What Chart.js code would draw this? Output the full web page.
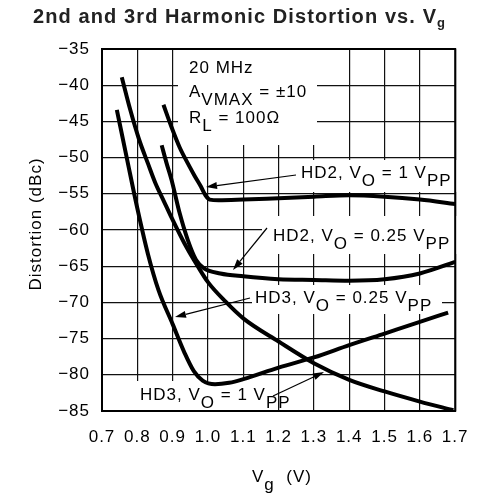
<!DOCTYPE html>
<html><head><meta charset="utf-8">
<script src="https://cdn.jsdelivr.net/npm/chart.js@4.4.1/dist/chart.umd.min.js"></script>
<style>html,body{margin:0;padding:0;background:#fff;}#wrap{width:483px;height:499px;}</style>
</head><body><div id="wrap"><canvas id="c" width="483" height="499"></canvas></div>
<script>
// Tick labels
const xTicks = [0.7, 0.8, 0.9, 1.0, 1.1, 1.2, 1.3, 1.4, 1.5, 1.6, 1.7];
const yTicks = [-35, -40, -45, -50, -55, -60, -65, -70, -75, -80, -85];

// HD2, VO = 1 VPP
const hd2_1V_x = [0.874, 0.897, 0.92, 0.943, 0.962, 0.98, 0.993, 1.005, 1.03, 1.1, 1.2, 1.3, 1.4, 1.5, 1.6, 1.7];
const hd2_1V_y = [-42.7, -45.8, -48.6, -50.8, -52.5, -54.0, -55.2, -55.8, -55.9, -55.8, -55.6, -55.4, -55.2, -55.4, -55.8, -56.4];
// HD2, VO = 0.25 VPP
const hd2_025V_x = [0.869, 0.883, 0.897, 0.92, 0.943, 0.966, 0.989, 1.035, 1.1, 1.2, 1.3, 1.4, 1.5, 1.6, 1.7];
const hd2_025V_y = [-48.3, -50.8, -53.1, -57.7, -61.4, -64.1, -65.3, -66.0, -66.4, -66.8, -66.9, -67.0, -66.8, -66.0, -64.4];
// HD3, VO = 0.25 VPP
const hd3_025V_x = [0.742, 0.77, 0.8, 0.83, 0.86, 0.9, 0.934, 0.96, 0.985, 1.02, 1.06, 1.1, 1.2, 1.3, 1.4, 1.5, 1.6, 1.68];
const hd3_025V_y = [-43.4, -50.0, -57.0, -63.3, -68.3, -73.0, -77.0, -79.5, -80.8, -81.3, -81.1, -80.6, -79.0, -77.6, -75.9, -74.3, -72.7, -71.4];
// HD3, VO = 1 VPP
const hd3_1V_x = [0.756, 0.78, 0.805, 0.83, 0.851, 0.875, 0.897, 0.934, 0.971, 1.0, 1.05, 1.1, 1.2, 1.3, 1.4, 1.5, 1.6, 1.695];
const hd3_1V_y = [-38.9, -43.4, -47.5, -50.8, -53.5, -56.0, -58.3, -61.9, -65.0, -67.2, -69.9, -72.2, -75.4, -78.4, -80.7, -82.3, -83.7, -84.9];

const FAM = "'Liberation Sans', Arial, sans-serif";
const FONT = "17px " + FAM;

function pts(xs, ys) { return xs.map((x, i) => ({x: x, y: ys[i]})); }
function ds(label, xs, ys) {
  return {label: label, data: pts(xs, ys), borderColor: '#000', borderWidth: 4,
    pointRadius: 0, fill: false, cubicInterpolationMode: 'monotone', borderCapStyle: 'butt', borderJoinStyle: 'round'};
}

function rich(ctx, x, y, parts) {
  let cx = x;
  for (const p of parts) {
    const t = p[0], sub = p[1];
    ctx.fillText(t, cx, y + (sub ? 8 : 0));
    cx += ctx.measureText(t).width;
  }
}
function arrow(ctx, x0, y0, x1, y1) {
  ctx.save();
  ctx.strokeStyle = '#000'; ctx.fillStyle = '#000'; ctx.lineWidth = 1.2;
  const a = Math.atan2(y1 - y0, x1 - x0);
  const L = 11, W = 3.5;
  const bx = x1 - L * Math.cos(a), by = y1 - L * Math.sin(a);
  ctx.beginPath(); ctx.moveTo(x0, y0); ctx.lineTo(bx, by); ctx.stroke();
  ctx.beginPath();
  ctx.moveTo(x1, y1);
  ctx.lineTo(bx + W * Math.sin(a), by - W * Math.cos(a));
  ctx.lineTo(bx - W * Math.sin(a), by + W * Math.cos(a));
  ctx.closePath(); ctx.fill();
  ctx.restore();
}

const deco = {
  id: 'deco',
  beforeDraw(chart) { chart.ctx.letterSpacing = '1px'; },
  beforeDatasetsDraw(chart) {
    const ctx = chart.ctx, a = chart.chartArea;
    ctx.save();
    ctx.fillStyle = '#fff';
    const boxes = [[178, 50, 317, 145], [296, 160, 458, 192], [262, 216, 458, 254], [252, 285, 442, 314], [108, 381, 278, 410]];
    for (const b of boxes) ctx.fillRect(b[0], b[1], b[2] - b[0], b[3] - b[1]);
    ctx.strokeStyle = '#000'; ctx.lineWidth = 2;
    ctx.strokeRect(a.left, a.top, a.right - a.left, a.bottom - a.top);
    ctx.restore();
  },
  afterDatasetsDraw(chart) {
    const ctx = chart.ctx;
    ctx.save();
    ctx.letterSpacing = '1px';
    ctx.fillStyle = '#000';
    ctx.font = FONT;
    ctx.textBaseline = 'alphabetic';
    ctx.textAlign = 'left';
    rich(ctx, 189, 73, [['20 MHz']]);
    rich(ctx, 189, 97, [['A'], ['VMAX', 1], [' = \u00b110']]);
    rich(ctx, 189, 123, [['R'], ['L', 1], [' = 100\u03a9']]);
    rich(ctx, 301, 178, [['HD2, V'], ['O', 1], [' = 1 V'], ['PP', 1]]);
    rich(ctx, 273, 241, [['HD2, V'], ['O', 1], [' = 0.25 V'], ['PP', 1]]);
    rich(ctx, 255, 303, [['HD3, V'], ['O', 1], [' = 0.25 V'], ['PP', 1]]);
    rich(ctx, 140, 400, [['HD3, V'], ['O', 1], [' = 1 V'], ['PP', 1]]);
    arrow(ctx, 296, 175, 206, 187);
    arrow(ctx, 267, 228, 233, 270);
    arrow(ctx, 250, 298, 175, 317);
    arrow(ctx, 273, 396, 324, 372);
    ctx.restore();
  },
  afterDraw(chart) {
    const ctx = chart.ctx;
    ctx.save();
    ctx.fillStyle = '#000';
    ctx.textBaseline = 'alphabetic';
    ctx.textAlign = 'left';
    // title
    ctx.letterSpacing = '1.1px';
    ctx.font = "bold 20px " + FAM;
    const t1 = '2nd and 3rd Harmonic Distortion vs. V';
    const w1 = ctx.measureText(t1).width;
    ctx.fillStyle = '#222';
    ctx.fillText(t1, 33, 23);
    ctx.font = "bold 13px " + FAM;
    ctx.fillText('g', 33 + w1, 27);
    // x axis title
    ctx.fillStyle = '#000';
    ctx.letterSpacing = '1px';
    ctx.font = FONT;
    rich(ctx, 252, 482, [['V'], ['g', 1], ['  (V)']]);
    // y axis title
    ctx.translate(41, 224);
    ctx.rotate(-Math.PI / 2);
    ctx.textAlign = 'center';
    ctx.fillText('Distortion (dBc)', 0, 0);
    ctx.restore();
  }
};

new Chart(document.getElementById('c'), {
  type: 'line',
  data: {datasets: [
    ds('HD2, VO = 1 VPP', hd2_1V_x, hd2_1V_y),
    ds('HD2, VO = 0.25 VPP', hd2_025V_x, hd2_025V_y),
    ds('HD3, VO = 0.25 VPP', hd3_025V_x, hd3_025V_y),
    ds('HD3, VO = 1 VPP', hd3_1V_x, hd3_1V_y)
  ]},
  options: {
    responsive: false, animation: false, devicePixelRatio: 1,
    layout: {padding: {top: 49, right: 20, left: 0, bottom: 0}},
    plugins: {legend: {display: false}, tooltip: {enabled: false}, title: {display: false}},
    scales: {
      x: {
        type: 'linear', min: 0.7, max: 1.7,
        afterBuildTicks: s => { s.ticks = xTicks.map(v => ({value: v})); },
        afterFit: s => { s.height = 88; },
        ticks: {autoSkip: false, maxRotation: 0, padding: 16, color: '#000',
          font: {family: FAM, size: 17}, callback: v => Number(v).toFixed(1)},
        grid: {color: '#111', lineWidth: 1.2, drawTicks: false},
        border: {display: false}
      },
      y: {
        type: 'linear', min: -85, max: -35,
        afterBuildTicks: s => { s.ticks = yTicks.map(v => ({value: v})); },
        afterFit: s => { s.width = 102; },
        ticks: {autoSkip: false, padding: 12, color: '#000',
          font: {family: FAM, size: 17}, callback: v => '\u2212' + Math.abs(v)},
        grid: {color: '#111', lineWidth: 1.2, drawTicks: false},
        border: {display: false}
      }
    }
  },
  plugins: [deco]
});
</script>
</body></html>
